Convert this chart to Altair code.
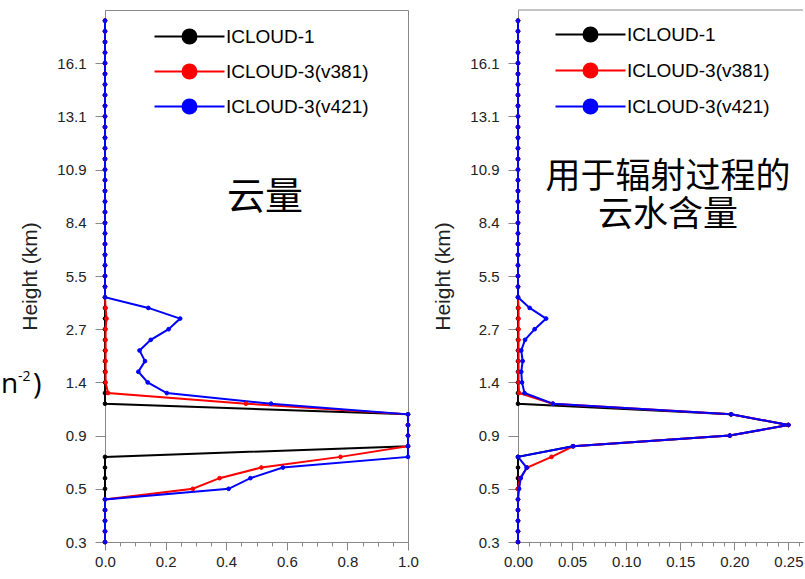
import altair as alt
import pandas as pd

# ---------------- data ----------------
levels = list(range(50))
height_tick_levels = [0, 5, 10, 15, 20, 25, 30, 35, 40, 45]
height_tick_labels = ["0.3", "0.5", "0.9", "1.4", "2.7", "5.5", "8.4", "10.9", "13.1", "16.1"]

series_names = ["ICLOUD-1", "ICLOUD-3(v381)", "ICLOUD-3(v421)"]
series_colors = ["#000000", "#ff0000", "#0000ff"]

# cloud fraction (left panel), one value per model level (bottom -> top)
cf_icloud1 = [0, 0, 0, 0, 0, 0, 0, 0, 0, 1.0,
              1.0, 1.0, 1.0, 0, 0, 0, 0, 0, 0, 0,
              0, 0, 0, 0, 0, 0, 0, 0, 0, 0,
              0, 0, 0, 0, 0, 0, 0, 0, 0, 0,
              0, 0, 0, 0, 0, 0, 0, 0, 0, 0]
cf_v381 = [0, 0, 0, 0, 0, 0.29, 0.378, 0.516, 0.777, 1.0,
           1.0, 1.0, 1.0, 0.465, 0.01, 0.002, 0.002, 0.002, 0.002, 0.002,
           0.002, 0.005, 0.002, 0, 0, 0, 0, 0, 0, 0,
           0, 0, 0, 0, 0, 0, 0, 0, 0, 0,
           0, 0, 0, 0, 0, 0, 0, 0, 0, 0]
cf_v421 = [0, 0, 0, 0, 0, 0.408, 0.48, 0.587, 1.0, 1.0,
           1.0, 1.0, 1.0, 0.548, 0.204, 0.141, 0.11, 0.132, 0.114, 0.151,
           0.21, 0.248, 0.143, 0, 0, 0, 0, 0, 0, 0,
           0, 0, 0, 0, 0, 0, 0, 0, 0, 0,
           0, 0, 0, 0, 0, 0, 0, 0, 0, 0]

# cloud water used in radiation (right panel)
lwc_icloud1 = [0, 0, 0, 0, 0, 0, 0, 0, 0, 0.051,
               0.196, 0.25, 0.197, 0, 0, 0, 0, 0, 0, 0,
               0, 0, 0, 0, 0, 0, 0, 0, 0, 0,
               0, 0, 0, 0, 0, 0, 0, 0, 0, 0,
               0, 0, 0, 0, 0, 0, 0, 0, 0, 0]
lwc_v381 = [0, 0, 0, 0, 0, 0, 0.002, 0.0086, 0.031, 0.051,
            0.196, 0.25, 0.197, 0.032, 0.001, 0.0005, 0.0005, 0.0005, 0.0005, 0.0005,
            0.0005, 0.0005, 0.0005, 0, 0, 0, 0, 0, 0, 0,
            0, 0, 0, 0, 0, 0, 0, 0, 0, 0,
            0, 0, 0, 0, 0, 0, 0, 0, 0, 0]
lwc_v421 = [0, 0, 0, 0, 0, 0.001, 0.0025, 0.008, 0, 0.0508,
            0.1957, 0.25, 0.197, 0.0323, 0.006, 0.0037, 0.003, 0.0043, 0.003, 0.0065,
            0.0154, 0.026, 0.0108, 0, 0, 0, 0, 0, 0, 0,
            0, 0, 0, 0, 0, 0, 0, 0, 0, 0,
            0, 0, 0, 0, 0, 0, 0, 0, 0, 0]

cf_major = [0, 0.2, 0.4, 0.6, 0.8, 1.0]
cf_minor = [0, 0.05, 0.1, 0.15, 0.2, 0.25, 0.3, 0.35, 0.4, 0.45, 0.5,
            0.55, 0.6, 0.65, 0.7, 0.75, 0.8, 0.85, 0.9, 0.95, 1.0]
lwc_major = [0, 0.05, 0.1, 0.15, 0.2, 0.25]
lwc_minor = [0, 0.01, 0.02, 0.03, 0.04, 0.05, 0.06, 0.07, 0.08, 0.09, 0.1,
             0.11, 0.12, 0.13, 0.14, 0.15, 0.16, 0.17, 0.18, 0.19, 0.2,
             0.21, 0.22, 0.23, 0.24, 0.25, 0.26]

caption_left = "云量"
caption_right = "用于辐射过程的\n云水含量"
cut_base = "n"
cut_sup = "-2"
cut_close = ")"

# ---------------- helpers ----------------
LATIN = "Liberation Sans"
CJK = "Noto Sans CJK SC"
GREY = "#888888"
INK = "#222222"
H = 532
WL = 303
WR = 285
LWC_MAX = 0.2635

# legend symbol: a 70px line with a 14px dot in its middle (unit = 7px)
SYMBOL = "M-5,0H5M1,0A1,1,0,1,1,-1,0A1,1,0,1,1,1,0Z"


def long_df(cols):
    rows = []
    for k, (name, vals) in enumerate(zip(series_names, cols)):
        for lev, v in zip(levels, vals):
            rows.append({"level": lev, "series": name, "value": v, "k": k})
    return pd.DataFrame(rows)


label_array = "[" + ",".join("'" + s + "'" for s in height_tick_labels) + "]"
yenc = alt.Y(
    "level:Q",
    scale=alt.Scale(domain=[0, 50], nice=False, zero=False),
    axis=alt.Axis(
        values=height_tick_levels,
        labelExpr=label_array + "[round(datum.value/5)]",
        title="Height (km)",
        titleFont=LATIN, titleFontSize=21, titleFontWeight="normal", titleColor=INK,
        titlePadding=16,
        labelFont=LATIN, labelFontSize=15, labelColor=INK, labelPadding=9,
        tickSize=10, tickColor=GREY, domainColor=GREY, grid=False,
        labelOverlap=False,
    ),
)


def xenc(domain, minor, major, fmt):
    arr = "[" + ",".join(str(v) for v in major) + "]"
    test = "indexof(" + arr + ", datum.value) >= 0"
    return alt.X(
        "value:Q",
        scale=alt.Scale(domain=domain, nice=False, zero=False),
        axis=alt.Axis(
            values=minor, format=fmt,
            labelExpr=test + " ? datum.label : ''",
            tickSize=alt.condition(test, alt.value(8), alt.value(4)),
            title=None,
            labelFont=LATIN, labelFontSize=15, labelColor=INK, labelPadding=4,
            tickColor=GREY, domainColor=GREY, grid=False, labelOverlap=False,
            labelFlush=False,
        ),
    )


def panel(df, x, legend_x, legend_y, row_pad):
    color_scale = alt.Scale(domain=series_names, range=series_colors)
    leg = alt.Legend(
        title=None, orient="none", legendX=legend_x, legendY=legend_y,
        symbolType=SYMBOL, symbolSize=196, symbolStrokeWidth=2, symbolOpacity=1,
        labelFont=LATIN, labelFontSize=19, labelColor="#000000", labelOffset=27,
        labelLimit=400, rowPadding=row_pad, padding=0,
    )
    base = alt.Chart(df)
    lines = base.mark_line(strokeWidth=2).encode(
        x=x, y=yenc,
        stroke=alt.Stroke("series:N", scale=color_scale, legend=leg),
        detail="series:N",
        order="level:Q",
    )
    pts = base.mark_point(filled=True, size=14, strokeWidth=1, opacity=1).encode(
        x=x, y=yenc,
        fill=alt.Fill("series:N", scale=color_scale, legend=leg),
        stroke=alt.Stroke("series:N", scale=color_scale, legend=leg),
        order="k:Q",
    )
    return lines, pts


left_lines, left_pts = panel(long_df([cf_icloud1, cf_v381, cf_v421]),
                             xenc([0, 1], cf_minor, cf_major, ".1f"), 75, 17, 12)
right_lines, right_pts = panel(long_df([lwc_icloud1, lwc_v381, lwc_v421]),
                               xenc([0, LWC_MAX], lwc_minor, lwc_major, ".2f"), 63, 15, 13)

cap_l = alt.Chart(pd.DataFrame({"t": [caption_left]})).mark_text(
    font=CJK, fontSize=38, align="center", baseline="middle", color="#000000"
).encode(text="t:N", x=alt.value(160), y=alt.value(188))

cut_n = alt.Chart(pd.DataFrame({"t": [cut_base]})).mark_text(
    font="Open Sans", fontSize=28, align="left", baseline="alphabetic", color="#000000"
).encode(text="t:N", x=alt.value(-104), y=alt.value(383))
cut_s = alt.Chart(pd.DataFrame({"t": [cut_sup]})).mark_text(
    font="Open Sans", fontSize=14, align="left", baseline="alphabetic", color="#000000"
).encode(text="t:N", x=alt.value(-87), y=alt.value(371))
cut_p = alt.Chart(pd.DataFrame({"t": [cut_close]})).mark_text(
    font="Open Sans", fontSize=29, align="left", baseline="alphabetic", color="#000000"
).encode(text="t:N", x=alt.value(-72), y=alt.value(384))

cap_r = alt.Chart(pd.DataFrame({"t": [caption_right]})).mark_text(
    font=CJK, fontSize=35, align="center", baseline="middle", color="#000000",
    lineBreak="\n", lineHeight=38,
).encode(text="t:N", x=alt.value(150), y=alt.value(167))

top_rule = alt.Chart(pd.DataFrame({"t": [0]})).mark_rule(color=GREY, strokeWidth=1).encode(
    x=alt.value(0), x2=alt.value(WR), y=alt.value(0)
)

left = alt.layer(left_lines, left_pts, cap_l, cut_n, cut_s, cut_p).properties(width=WL, height=H)
right = alt.layer(right_lines, right_pts, cap_r, top_rule).properties(
    width=WR, height=H, view=alt.ViewBackground(stroke="transparent")
)

chart = alt.hconcat(left, right, spacing=110, bounds="flush").resolve_scale(
    fill="independent", stroke="independent", x="independent"
).resolve_legend(fill="independent", stroke="independent").properties(
    padding={"left": 0, "top": 9, "right": 0, "bottom": 0},
    background="white",
).configure_view(stroke=GREY, strokeWidth=1)

chart.save("out.html", embed_options={"renderer": "svg", "actions": False})
